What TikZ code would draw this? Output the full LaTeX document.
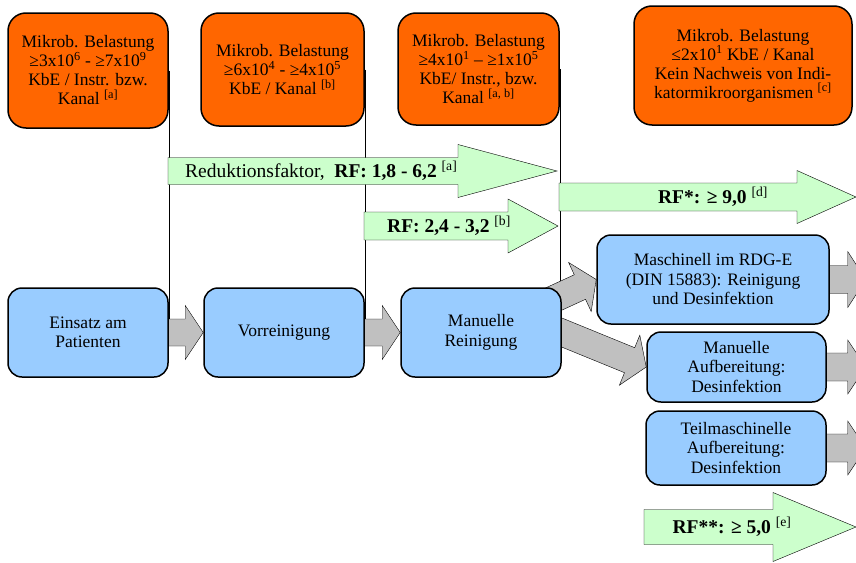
\documentclass[tikz,border=0pt]{standalone}
\usepackage{fontspec}
\setmainfont{Liberation Serif}
\usetikzlibrary{calc,positioning,backgrounds}

\definecolor{loadorange}{RGB}{255,102,0}
\definecolor{procblue}{RGB}{153,204,255}
\definecolor{rfgreen}{RGB}{204,255,204}
\definecolor{arrowgray}{RGB}{192,192,192}

% block arrow: [style]{from}{to}{shaft half width}{head half width}{head length}
\newcommand{\fatarrow}[6][greyarr]{%
  \coordinate (fa-h) at ($(#3)!#6!(#2)$);
  \draw[#1] ($(#2)!#4!90:(#3)$) -- ($(fa-h)!#4!90:(#3)$) -- ($(fa-h)!#5!90:(#3)$) -- (#3)
    -- ($(fa-h)!#5!-90:(#3)$) -- ($(fa-h)!#4!-90:(#3)$) -- ($(#2)!#4!-90:(#3)$) -- cycle;}

\begin{document}
\begin{tikzpicture}[x=1pt,y=-1pt,line width=1.5pt,
  load/.style={draw,fill=loadorange,rounded corners=18pt,align=center,inner sep=0pt,
    font=\fontsize{17.5}{19}\selectfont},
  proc/.style={draw,fill=procblue,rounded corners=14pt,align=center,inner sep=0pt,
    font=\fontsize{17.5}{19.5}\selectfont},
  greyarr/.style={draw,fill=arrowgray},
  rfarr/.style={draw,fill=rfgreen},
  rftext/.style={inner sep=0pt,font=\fontsize{19.5}{21}\selectfont}]
\useasboundingbox (0,0) rectangle (856,562);

% microbial load
\node[load,minimum width=160pt,minimum height=115pt] (load1) at (88,70.5)
  {Mikrob. Belastung\\ ≥3x10\textsuperscript{6} - ≥7x10\textsuperscript{9}\\ KbE / Instr. bzw.\\ Kanal \textsuperscript{[a]}};
\node[load,minimum width=163pt,minimum height=113pt] (load2) at (282.5,69.5)
  {Mikrob. Belastung\\ ≥6x10\textsuperscript{4} - ≥4x10\textsuperscript{5}\\ KbE / Kanal \textsuperscript{[b]}};
\node[load,minimum width=161pt,minimum height=112pt] (load3) at (478.5,69)
  {Mikrob. Belastung\\ ≥4x10\textsuperscript{1} – ≥1x10\textsuperscript{5}\\ KbE/ Instr., bzw.\\ Kanal \textsuperscript{[a, b]}};
\node[load,minimum width=218pt,minimum height=119pt] (load4) at (743,65.5)
  {Mikrob. Belastung\\ ≤2x10\textsuperscript{1} KbE / Kanal\\ Kein Nachweis von Indi-\\ katormikroorganismen \textsuperscript{[c]}};

% process steps
\node[proc,minimum width=160pt,minimum height=89pt] (use) at (88,332.5) {Einsatz am\\ Patienten};
\node[proc,minimum width=160pt,minimum height=89pt] (pre) at (284,332.5) {Vorreinigung};
\node[proc,minimum width=160pt,minimum height=89pt] (man) at (481,332.5) {Manuelle\\ Reinigung};
\node[proc,minimum width=232pt,minimum height=89pt] (masch) at (713,279.5)
  {Maschinell im RDG-E\\ (DIN 15883): Reinigung\\ und Desinfektion};
\node[proc,minimum width=179pt,minimum height=70pt] (aufb) at (736.5,367)
  {Manuelle\\ Aufbereitung:\\ Desinfektion};
\node[proc,minimum width=180pt,minimum height=74pt] (teil) at (736,448)
  {Teilmaschinelle\\ Aufbereitung:\\ Desinfektion};

\begin{pgfonlayer}{background}
\draw (load1.east) -- (use.east);
\draw (load2.east) -- (pre.east);
\draw (load3.east) -- (load3.east |- man.north);
\fatarrow{use.east}{pre.west}{13.5pt}{27pt}{18pt}
\fatarrow{pre.east}{man.west}{13.5pt}{27pt}{18pt}
\fatarrow{man.center}{masch.west}{13.5pt}{27pt}{18pt}
\coordinate (mdown) at ($(man.east)!-20pt!(aufb.west)$);
\fatarrow{mdown}{aufb.west}{13.5pt}{27pt}{18pt}
\coordinate (maschout) at ($(masch.east)+(36,0)$);
\coordinate (aufbout) at ($(aufb.east)+(39,0)$);
\coordinate (teilout) at ($(teil.east)+(39,0)$);
\fatarrow{masch.east}{maschout}{14pt}{28pt}{18pt}
\fatarrow{aufb.east}{aufbout}{14pt}{27pt}{18pt}
\fatarrow{teil.east}{teilout}{14pt}{27pt}{18pt}
\end{pgfonlayer}

% reduction factors
\coordinate (rf1s) at (168,171);  \coordinate (rf1e) at (557,171);
\coordinate (rf2s) at (364,226);  \coordinate (rf2e) at (558,226);
\coordinate (rf3s) at (559,197);  \coordinate (rf3e) at (856,197);
\coordinate (rf4s) at (644,527);  \coordinate (rf4e) at (856,527);
\fatarrow[rfarr]{rf1s}{rf1e}{13.5pt}{26.5pt}{99pt}
\fatarrow[rfarr]{rf2s}{rf2e}{14pt}{27pt}{50pt}
\fatarrow[rfarr]{rf3s}{rf3e}{14pt}{26.5pt}{59pt}
\fatarrow[rfarr]{rf4s}{rf4e}{17.5pt}{34.5pt}{83pt}
\node[rftext,anchor=west] (rf1) at ($(rf1s)+(17,0)$)
  {Reduktionsfaktor,\enspace\textbf{RF: 1,8 - 6,2} \textsuperscript{[a]}};
\node[rftext] (rf2) at (449,226) {\textbf{RF: 2,4 - 3,2} \textsuperscript{[b]}};
\node[rftext] (rf3) at (713,197) {\textbf{RF*: ≥ 9,0} \textsuperscript{[d]}};
\node[rftext] (rf4) at (732,527) {\textbf{RF**: ≥ 5,0} \textsuperscript{[e]}};
\end{tikzpicture}
\end{document}
